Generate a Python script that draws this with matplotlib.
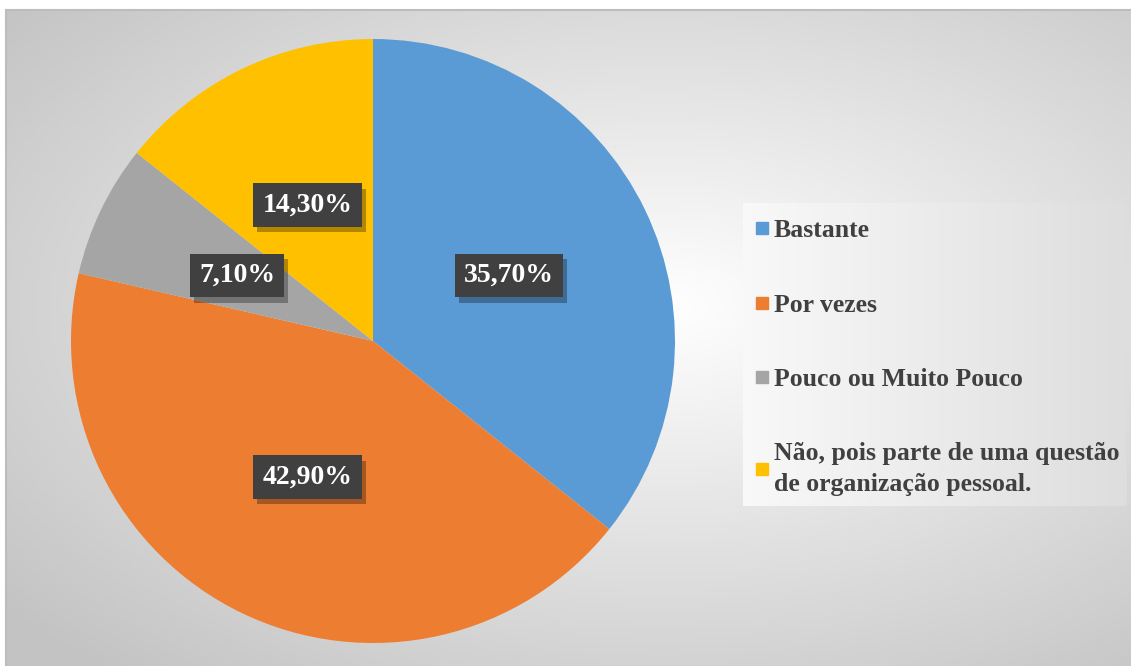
import numpy as np
import matplotlib
matplotlib.use("Agg")
import matplotlib.pyplot as plt
from matplotlib.lines import Line2D
import matplotlib.patheffects as pe

categories = ["Bastante", "Por vezes", "Pouco ou Muito Pouco",
              "Não, pois parte de uma questão\nde organização pessoal."]
values = [35.7, 42.9, 7.1, 14.3]
colors = ["#5B9BD5", "#ED7D31", "#A5A5A5", "#FFC000"]

W, H = 1131, 666
plt.rcParams['font.family'] = ['Liberation Serif', 'DejaVu Serif']

fig = plt.figure(figsize=(W / 100, H / 100), dpi=100)
fig.patch.set_facecolor("white")

# chart area with radial gradient background
x0, y0 = 6, 10
bg = fig.add_axes([x0 / W, 0, (W - x0) / W, (H - y0) / H])
yy, xx = np.mgrid[0:200, 0:300]
cx, cy = 175, 90
r = np.sqrt(((xx - cx) / 170) ** 2 + ((yy - cy) / 110) ** 2) / np.sqrt(2)
r = np.clip(r / 0.95, 0, 1)
shade = 1.0 - (1.0 - 0.765) * r
bg.imshow(np.dstack([shade] * 3), aspect="auto", extent=[0, 1, 0, 1], origin="upper")
bg.set_xlim(0, 1)
bg.set_ylim(0, 1)
bg.set_xticks([])
bg.set_yticks([])
for side, sp in bg.spines.items():
    sp.set_visible(side in ("top", "left"))
    sp.set_color("#bdbdbd")
    sp.set_linewidth(1.5)

# legend panel
lx0, lx1, ly0, ly1 = 743, 1127, 203, 506
lg = fig.add_axes([lx0 / W, 1 - ly1 / H, (lx1 - lx0) / W, (ly1 - ly0) / H])
grad = np.linspace(0.975, 0.87, 256)[None, :]
lg.imshow(np.dstack([grad] * 3), aspect="auto", extent=[0, 1, 0, 1])
lg.set_axis_off()

# pie
cxp, cyp, rad = 373, 341, 302
ax = fig.add_axes([(cxp - rad) / W, (H - cyp - rad) / H, 2 * rad / W, 2 * rad / H])
wedges, texts, autotexts = ax.pie(
    values, colors=colors, startangle=90, counterclock=False, radius=1,
    autopct=lambda p: f"{p:.2f}%".replace(".", ","), pctdistance=0.5,
    wedgeprops=dict(linewidth=0),
    textprops=dict(color="white", fontsize=20, fontweight="bold"))
ax.set_xlim(-1, 1)
ax.set_ylim(-1, 1)
ax.set_aspect("auto")
ax.set_axis_off()

for t in autotexts:
    t.set_bbox(dict(boxstyle="square,pad=0.33", fc="#404040", ec="none"))
    t.get_bbox_patch().set_path_effects(
        [pe.SimplePatchShadow(offset=(3, -4), shadow_rgbFace="black", alpha=0.3), pe.Normal()])

handles = [Line2D([0], [0], marker="s", linestyle="none", markersize=9,
                  markerfacecolor=c, markeredgecolor=c) for c in colors]
leg = fig.legend(handles, categories, loc="upper left",
                 bbox_to_anchor=(743 / W, 1 - 209 / H), frameon=False,
                 prop=dict(family="Liberation Serif", weight="bold", size=18.5),
                 labelcolor="#404040", labelspacing=2.0, handlelength=0.7,
                 handletextpad=0.1, borderaxespad=0)
for txt in leg.get_texts():
    txt.set_linespacing(1.4)

fig.savefig("out.png", dpi=100)
